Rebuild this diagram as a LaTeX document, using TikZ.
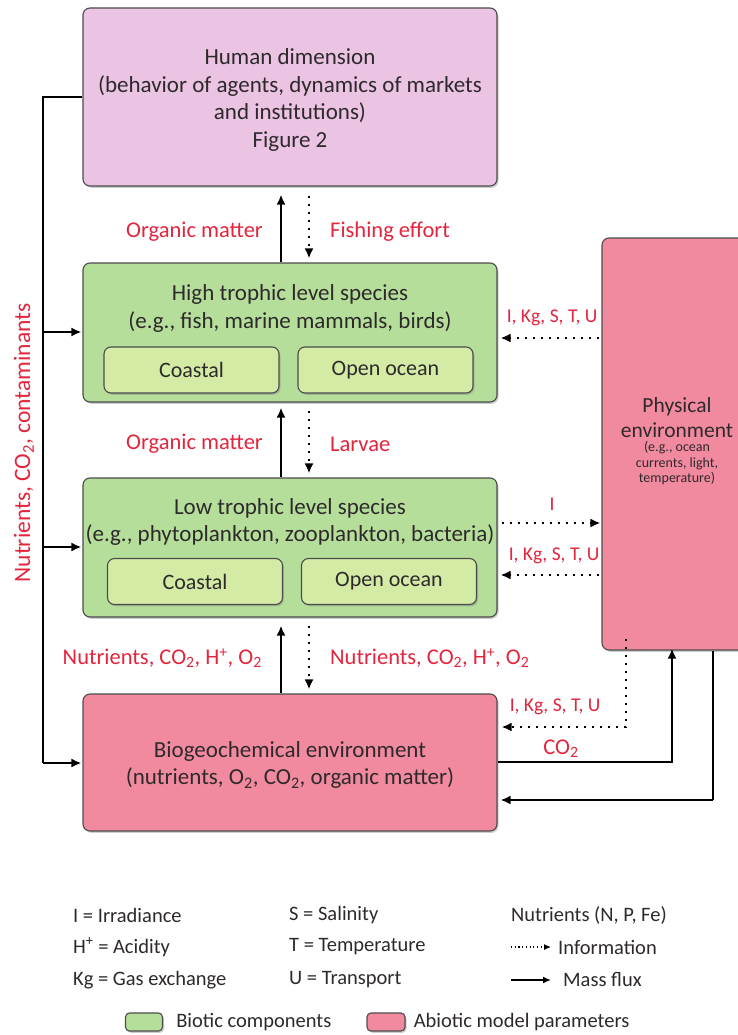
\documentclass[tikz,border=0pt]{standalone}
\usepackage{fontspec}
\setmainfont{Carlito}
\usetikzlibrary{positioning,shadows,arrows.meta}
\definecolor{humanpink}{HTML}{EBC3E3}
\definecolor{biogreen}{HTML}{B6DE9B}
\definecolor{innergreen}{HTML}{D4EBA6}
\definecolor{abiopink}{HTML}{F28A9F}
\definecolor{labred}{HTML}{E3253D}
\definecolor{ink}{HTML}{2E2A2B}
\tikzset{
  box/.style={draw=black!70, line width=1.1pt, rounded corners=7pt,
    drop shadow={shadow xshift=1.5pt, shadow yshift=-1.8pt, opacity=0.4}},
  humanbox/.style={box, fill=humanpink, minimum width=414pt, minimum height=178pt},
  greenbox/.style={box, fill=biogreen, minimum width=414pt, minimum height=139pt},
  pinkbox/.style={box, fill=abiopink},
  subbox/.style={box, fill=innergreen, minimum width=175pt, minimum height=46pt,
    text=ink, font=\fontsize{22}{26}\selectfont},
  title/.style={align=center, text=ink, font=\fontsize{23}{27.5}\selectfont},
  lab/.style={text=labred, font=\fontsize{22.5}{26}\selectfont, inner sep=0pt},
  parlab/.style={lab, font=\fontsize{19.5}{22}\selectfont},
  leg/.style={anchor=west, inner sep=0pt, text=ink, font=\fontsize{20.5}{24}\selectfont},
  flux/.style={line width=2pt, -{Latex[length=10pt,width=9pt]}},
  info/.style={line width=2.2pt, dash pattern=on 2.4pt off 5.6pt, -{Latex[length=10pt,width=9pt]}}
}
\begin{document}
\begin{tikzpicture}[x=1pt, y=-1pt]
\useasboundingbox (0,0) rectangle (738,1035);
\fill[white] (0,0) rectangle (738,1035);

\node[humanbox] (human) at (290,97) {};
\node[title] (humantxt) at (290,100) {Human dimension\\(behavior of agents, dynamics of markets\\and institutions)\\Figure 2};

\node[greenbox] (high) at (290,332.5) {};
\node[title] (hightxt) at (290,308.5) {High trophic level species\\(e.g., fish, marine mammals, birds)};
\node[subbox] (hcoast) at (191.5,370) {Coastal};
\node[subbox] (hopen) at (385.5,370) {Open ocean};

\node[greenbox] (low) at (290,547.5) {};
\node[title] (lowtxt) at (290,522) {Low trophic level species\\(e.g., phytoplankton, zooplankton, bacteria)};
\node[subbox] (lcoast) at (195,581.5) {Coastal};
\node[subbox] (lopen) at (389,581.5) {Open ocean};

\node[pinkbox, minimum width=414pt, minimum height=137pt] (bio) at (290,762.5) {};
\node[title] (biotxt) at (290,765) {Biogeochemical environment\\(nutrients, O\textsubscript{2}, CO\textsubscript{2}, organic matter)};

\node[pinkbox, minimum width=150pt, minimum height=412pt] (phys) at (677,444) {};
\node[align=center, text=ink, font=\fontsize{21.5}{25}\selectfont] (phystxt) at (677,417.5) {Physical\\environment};
\node[align=center, text=ink, font=\fontsize{14}{15.5}\selectfont, below=-3pt of phystxt] (physsub) {(e.g., ocean\\currents, light,\\temperature)};

\coordinate (up) at (281,0);
\coordinate (dn) at (309,0);
\draw[flux] (high.north -| up) -- ([yshift=-8pt]human.south -| up);
\draw[info] ([yshift=-9pt]human.south -| dn) -- ([yshift=4pt]high.north -| dn);
\node[lab, anchor=east] (om1) at (263,232) {Organic matter};
\node[lab, anchor=west] (fe) at (330,232) {Fishing effort};

\draw[flux] (low.north -| up) -- ([yshift=-5pt]high.south -| up);
\draw[info] ([yshift=-8pt]high.south -| dn) -- ([yshift=4pt]low.north -| dn);
\node[lab, anchor=east] (om2) at (263,444) {Organic matter};
\node[lab, anchor=west] (larv) at (330,444) {Larvae};

\draw[flux] (bio.north -| up) -- ([yshift=-8pt]low.south -| up);
\draw[info] ([yshift=-8pt]low.south -| dn) -- ([yshift=4pt]bio.north -| dn);
\node[lab, anchor=east] (nut1) at (262,658) {Nutrients, CO\textsubscript{2}, H\textsuperscript{+}, O\textsubscript{2}};
\node[lab, anchor=west] (nut2) at (330,658) {Nutrients, CO\textsubscript{2}, H\textsuperscript{+}, O\textsubscript{2}};

\coordinate (ya) at (0,338);
\coordinate (yb) at (0,523);
\coordinate (yc) at (0,575);
\draw[info] ([xshift=-2pt]phys.west |- ya) -- ([xshift=3pt]high.east |- ya);
\node[parlab] (pa) at (552,318) {I, Kg, S, T, U};
\draw[info] ([xshift=4pt]low.east |- yb) -- ([xshift=-1pt]phys.west |- yb);
\node[parlab] (pb) at (552,504) {I};
\draw[info] ([xshift=-2pt]phys.west |- yc) -- ([xshift=3pt]low.east |- yc);
\node[parlab] (pc) at (554,556) {I, Kg, S, T, U};

\coordinate (xd) at (626,727);
\coordinate (xe) at (672,762);
\coordinate (xf) at (713,800);
\draw[info] ([yshift=12pt]phys.south -| xd) |- ([xshift=4pt]bio.east |- xd);
\node[parlab] (pd) at (555,707) {I, Kg, S, T, U};
\draw[flux] (bio.east |- xe) -| ([yshift=2pt]phys.south -| xe);
\node[lab] (co) at (561,749) {CO\textsubscript{2}};
\draw[line width=2pt] (phys.south -| xf) |- (xf);
\draw[flux] (xf) -- ([xshift=3pt]bio.east |- xf);

\coordinate (lft) at (43,763);
\draw[line width=2pt] (human.west) -| (lft);
\draw[flux] (lft) -- ([xshift=-1pt]bio.west |- lft);
\draw[flux] (lft |- 0,332) -- ([xshift=-1pt]high.west |- 0,332);
\draw[flux] (lft |- 0,547) -- ([xshift=-1pt]low.west |- 0,547);
\node[lab, rotate=90, font=\fontsize{23.5}{26}\selectfont] (side) at (24,443) {Nutrients, CO\textsubscript{2}, contaminants};

\node[leg] (l1) at (73,915) {I = Irradiance};
\node[leg] (l2) at (73,947) {H\textsuperscript{+} = Acidity};
\node[leg] (l3) at (73,980) {Kg = Gas exchange};
\node[leg] (l4) at (289,915) {S = Salinity};
\node[leg] (l5) at (289,947) {T = Temperature};
\node[leg] (l6) at (289,980) {U = Transport};
\node[leg] (l7) at (511,915) {Nutrients (N, P, Fe)};
\coordinate (ia) at (511,947);
\coordinate (ma) at (511,980);
\node[leg] (l8) at (558,947) {Information};
\node[leg] (l9) at (563,980) {Mass flux};
\draw[line width=1.1pt, dash pattern=on 1.1pt off 2.6pt, -{Latex[length=7pt,width=6pt]}] (ia) -- ([xshift=-7pt]l8.west);
\draw[line width=1.6pt, -{Latex[length=8pt,width=7pt]}] (ma) -- ([xshift=-12pt]l9.west);

\node[box, fill=biogreen, minimum width=37pt, minimum height=18pt, rounded corners=4pt] (sw1) at (144,1022) {};
\node[leg, right=13pt of sw1] (l10) {Biotic components};
\node[box, fill=abiopink, minimum width=38pt, minimum height=18pt, rounded corners=4pt] (sw2) at (386,1022) {};
\node[leg, right=8pt of sw2] (l11) {Abiotic model parameters};
\end{tikzpicture}
\end{document}
